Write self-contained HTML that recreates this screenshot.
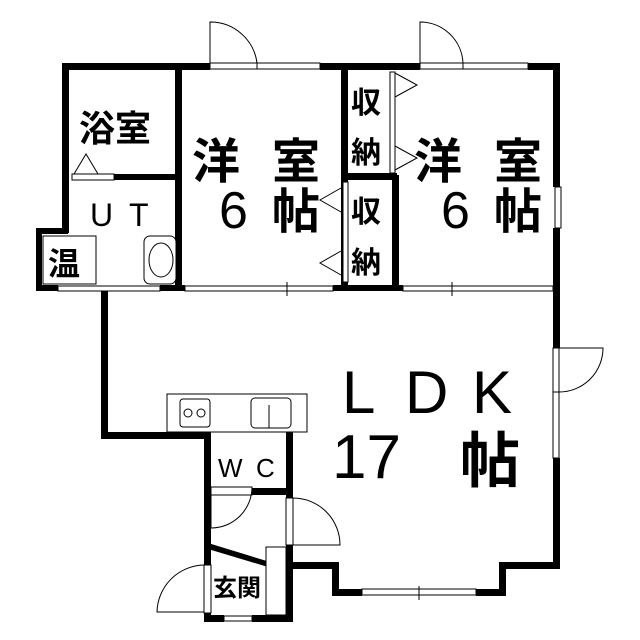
<!DOCTYPE html>
<html><head><meta charset="utf-8"><style>
html,body{margin:0;padding:0;background:#fff;}
svg{display:block}
text{font-family:"Liberation Sans","Noto Sans CJK JP",sans-serif;fill:#000}
.k{font-family:"Noto Sans CJK JP",sans-serif;font-weight:bold}
</style></head><body>
<svg width="640" height="640" viewBox="0 0 640 640" xmlns="http://www.w3.org/2000/svg">
<g fill="#000">
<rect x="62" y="63" width="148" height="7"/>
<rect x="320" y="63" width="100" height="7"/>
<rect x="528" y="63" width="32" height="7"/>
<rect x="553" y="63" width="7" height="124"/>
<rect x="553" y="228" width="7" height="120"/>
<rect x="553" y="458" width="7" height="110"/>
<rect x="62" y="63" width="7" height="170"/>
<rect x="36" y="228" width="32" height="6"/>
<rect x="36" y="228" width="6" height="63"/>
<rect x="36" y="285" width="22" height="6"/>
<rect x="101" y="288" width="7" height="150"/>
<rect x="101" y="432" width="108" height="7"/>
<rect x="175" y="63" width="7" height="228"/>
<rect x="113" y="174" width="66" height="6"/>
<rect x="341" y="63" width="7" height="228"/>
<rect x="341" y="173" width="56" height="7"/>
<rect x="392" y="175" width="7" height="116"/>
<rect x="333" y="285" width="70" height="6"/>
<rect x="160" y="285" width="25" height="6"/>
<rect x="204" y="432" width="7" height="190"/>
<rect x="286" y="432" width="7" height="66"/>
<rect x="252" y="488" width="40" height="7"/>
<rect x="286" y="545" width="7" height="77"/>
<rect x="204" y="615" width="20" height="7"/>
<rect x="252" y="615" width="41" height="7"/>
<rect x="290" y="562" width="48" height="7"/>
<rect x="332" y="562" width="7" height="34"/>
<rect x="332" y="589" width="30" height="7"/>
<rect x="476" y="589" width="30" height="7"/>
<rect x="499" y="562" width="7" height="34"/>
<rect x="499" y="562" width="61" height="7"/>
<polygon points="208,543 270,562 268,567 208,549"/>
</g>
<g fill="#fff" stroke="#000" stroke-width="1">
<rect x="210" y="63" width="47" height="6"/>
<rect x="257" y="63" width="63" height="6"/>
<rect x="420" y="63" width="43" height="6"/>
<rect x="463" y="63" width="65" height="6"/>
<rect x="72" y="174" width="42" height="6"/>
<rect x="58" y="286" width="102" height="5"/>
<rect x="185" y="286" width="148" height="5"/>
<rect x="403" y="286" width="150" height="5"/>
<rect x="390" y="72" width="5" height="101"/>
<rect x="343" y="182" width="5" height="100"/>
<rect x="555" y="187" width="6" height="41"/>
<rect x="553" y="348" width="6" height="44"/>
<rect x="553" y="392" width="6" height="66"/>
<rect x="362" y="589" width="114" height="6"/>
<rect x="211" y="487" width="41" height="8"/>
<rect x="286" y="498" width="7" height="47"/>
<rect x="266" y="547" width="20" height="68"/>
<rect x="204" y="565" width="7" height="48"/>
<rect x="224" y="616" width="28" height="5"/>
<rect x="43" y="236" width="53" height="48"/>
<rect x="167" y="394" width="140" height="38"/>
<rect x="180" y="399" width="30" height="28" rx="3"/>
<rect x="251" y="398" width="40" height="30" rx="4"/>
<rect x="144" y="236" width="32" height="48" rx="6"/>
</g>
<g fill="none" stroke="#000" stroke-width="1">
<path d="M210,63 V22 A47,47 0 0 1 257,63"/>
<path d="M420,63 V22 A43,43 0 0 1 463,63"/>
<path d="M559,348 H603 A44,44 0 0 1 559,392"/>
<path d="M211,487 V528 A41,41 0 0 0 252,487"/>
<path d="M293,498 V545 H340 A47,47 0 0 0 293,498"/>
<path d="M204,612 H157 A48,48 0 0 1 204,565"/>
<path d="M395,73 L417,85 L395,97"/>
<path d="M395,146 L417,158 L395,170"/>
<path d="M341,188 L320,200 L341,212"/>
<path d="M341,251 L320,263 L341,275"/>
<path d="M74,174 L86,154 L98,174"/>
<ellipse cx="161" cy="260" rx="12" ry="17"/>
<circle cx="188" cy="413" r="4"/><circle cx="201" cy="413" r="4"/>
<line x1="269" y1="405" x2="269" y2="428"/>
<line x1="287" y1="282" x2="287" y2="296"/>
<line x1="452" y1="282" x2="452" y2="296"/>
<line x1="419" y1="586" x2="419" y2="600"/>
</g>
<text class="k" x="79" y="141" font-size="36">浴室</text>
<text x="90" y="226" font-size="32">U</text>
<text x="129" y="226" font-size="32">T</text>
<text class="k" x="48" y="275" font-size="32">温</text>
<text class="k" x="192" y="178" font-size="48">洋</text>
<text class="k" x="272" y="178" font-size="48">室</text>
<text x="219" y="228" font-size="52">6</text>
<text class="k" x="272" y="228" font-size="48">帖</text>
<text class="k" x="414" y="178" font-size="48">洋</text>
<text class="k" x="494" y="178" font-size="48">室</text>
<text x="441" y="228" font-size="52">6</text>
<text class="k" x="494" y="228" font-size="48">帖</text>
<text class="k" x="351" y="113" font-size="30">収</text>
<text class="k" x="351" y="163" font-size="30">納</text>
<text class="k" x="351" y="222" font-size="30">収</text>
<text class="k" x="351" y="273" font-size="30">納</text>
<text x="342" y="413" font-size="60">L</text>
<text x="405" y="413" font-size="60">D</text>
<text x="472" y="413" font-size="60">K</text>
<text x="332" y="478" font-size="62">17</text>
<text class="k" x="460" y="482" font-size="60">帖</text>
<text x="218" y="477" font-size="26">W</text>
<text x="256" y="477" font-size="26">C</text>
<text class="k" x="213" y="596" font-size="24">玄関</text>
</svg>
</body></html>
